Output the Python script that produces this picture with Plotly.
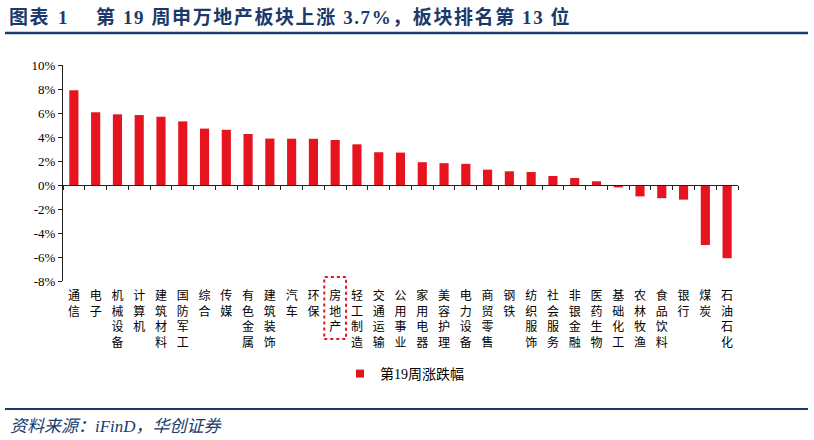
import plotly.graph_objects as go

categories = ["通信", "电子", "机械设备", "计算机", "建筑材料", "国防军工", "综合", "传媒",
              "有色金属", "建筑装饰", "汽车", "环保", "房地产", "轻工制造", "交通运输", "公用事业",
              "家用电器", "美容护理", "电力设备", "商贸零售", "钢铁", "纺织服饰", "社会服务",
              "非银金融", "医药生物", "基础化工", "农林牧渔", "食品饮料", "银行", "煤炭", "石油石化"]
values = [7.9, 6.06, 5.89, 5.83, 5.69, 5.3, 4.7, 4.6, 4.25, 3.87, 3.86, 3.85, 3.75, 3.39,
          2.73, 2.7, 1.9, 1.82, 1.76, 1.28, 1.14, 1.08, 0.75, 0.58, 0.31, -0.2, -0.95, -1.1,
          -1.22, -5.0, -6.1]
series_name = "第19周涨跌幅"
highlight = "房地产"
y_ticks = [-8, -6, -4, -2, 0, 2, 4, 6, 8, 10]
y_min, y_max = -8, 10

W, H = 814, 440
L, R, T, B = 63, 76, 65, 159
PW, PH = W - L - R, H - T - B

def px(x):
    return (x - L) / PW

def py(y):
    return (H - B - y) / PH

labels = ["<br>".join(list(c)) for c in categories]
RED = "#E5141F"
NAVY = "#1B3A6B"
NB = "\u00a0"
HS = "\u200a"

def spaced(s):
    return HS.join(list(s))

fig = go.Figure()
fig.add_trace(go.Bar(x=labels, y=values, name=series_name, marker_color=RED,
                     marker_line_width=0, xaxis="x", yaxis="y", showlegend=False))
fig.add_trace(go.Bar(x=labels, y=values, showlegend=False, marker_color="rgba(0,0,0,0)",
                     marker_line_width=0, xaxis="x2", yaxis="y", hoverinfo="skip"))
# legend entry (square marker like the reference)
fig.add_trace(go.Scatter(x=[labels[0]], y=[None], mode="markers", name=series_name,
                         marker=dict(symbol="square", size=8, color=RED), xaxis="x", yaxis="y"))

n = len(categories)
zero_pos = (0 - y_min) / (y_max - y_min)
fig.update_layout(
    width=W, height=H,
    margin=dict(l=L, r=R, t=T, b=B),
    paper_bgcolor="white", plot_bgcolor="white",
    bargap=0.58,
    barmode="overlay",
    showlegend=True,
    legend=dict(orientation="h", x=px(340), y=py(374), xanchor="left", yanchor="middle",
                font=dict(family="Liberation Serif, Noto Sans CJK SC", size=14, color="black"),
                itemwidth=30, bgcolor="rgba(0,0,0,0)"),
    xaxis=dict(type="category", range=[-0.5, n - 0.5], showline=False, ticks="",
               showgrid=False, zeroline=False,
               tickfont=dict(family="Noto Sans CJK SC", size=12, color="black"),
               tickangle=0, ticklabelstandoff=6),
    xaxis2=dict(type="category", overlaying="x", anchor="free", position=zero_pos,
                range=[-0.5, n - 0.5],
                showline=True, linecolor="#222", linewidth=1, ticks="outside", ticklen=4,
                tickcolor="#222", tickson="boundaries", showticklabels=False,
                showgrid=False, zeroline=False),
    yaxis=dict(range=[y_min, y_max], tickvals=y_ticks,
               ticktext=[f"{v}%" for v in y_ticks],
               showline=True, linecolor="#222", linewidth=1, ticks="outside", ticklen=4,
               tickcolor="#222", showgrid=False, zeroline=False,
               tickfont=dict(family="Liberation Serif", size=13, color="black")),
)

# dotted box around highlight label
idx = categories.index(highlight)
fig.add_shape(type="rect", xref="x", yref="paper", x0=idx - 0.5, x1=idx + 0.5,
              y0=py(339), y1=py(277), line=dict(color=RED, width=2, dash="dot"))

# title and rules
title_txt = spaced("图表") + NB * 2 + "1" + "\u3000" + NB * 2 + spaced("第 19 周申万地产板块上涨 3.7%，板块排名第 13 位")
fig.add_annotation(text=f"<b>{title_txt}</b>",
                   xref="paper", yref="paper", x=px(7), y=py(17), xanchor="left", yanchor="middle",
                   showarrow=False,
                   font=dict(family="Liberation Serif, Noto Sans CJK SC", size=19, color=NAVY))
fig.add_shape(type="line", xref="paper", yref="paper", x0=px(5), x1=px(808), y0=py(33), y1=py(33),
              line=dict(color=NAVY, width=2.5))
fig.add_shape(type="line", xref="paper", yref="paper", x0=px(5), x1=px(808), y0=py(409), y1=py(409),
              line=dict(color=NAVY, width=2))
fig.add_annotation(text="<i>资料来源：iFinD，华创证券</i>",
                   xref="paper", yref="paper", x=px(8), y=py(426), xanchor="left", yanchor="middle",
                   showarrow=False,
                   font=dict(family="Liberation Serif, Noto Sans CJK SC", size=17, color=NAVY))

fig.write_html("out.html")
